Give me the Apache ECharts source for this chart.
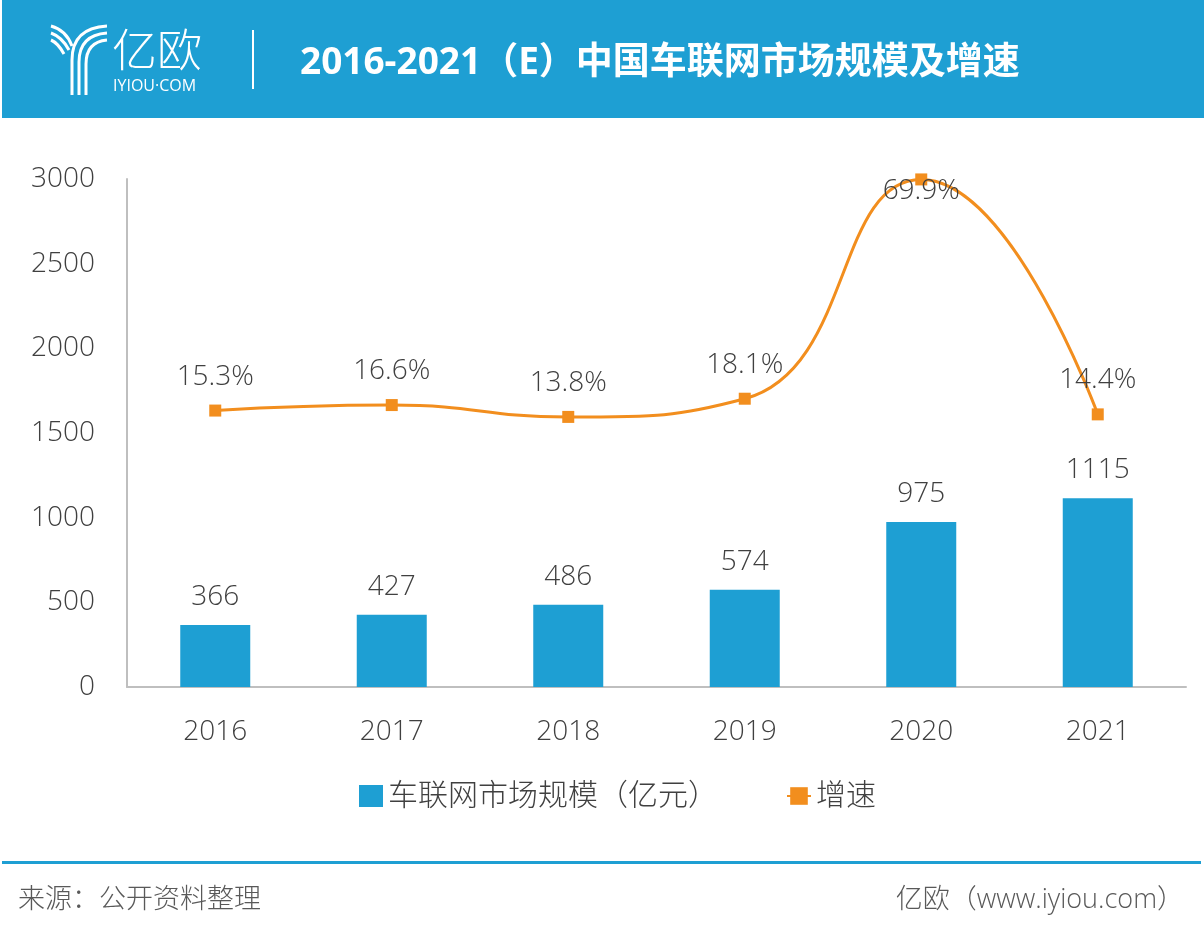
<!DOCTYPE html>
<html>
<head>
<meta charset="utf-8">
<script src="https://cdn.jsdelivr.net/npm/echarts@6/dist/echarts.min.js"></script>
<style>
html, body { margin: 0; padding: 0; background: #fff; }
#chart { width: 1204px; height: 940px; }
</style>
</head>
<body>
<div id="chart"></div>
<script>
var years = ['2016', '2017', '2018', '2019', '2020', '2021'];
var marketSize = [366, 427, 486, 574, 975, 1115];
var growth = [0.153, 0.166, 0.138, 0.181, 0.699, 0.144];
var yTicks = [0, 500, 1000, 1500, 2000, 2500, 3000];

var FONT = "'Open Sans', 'Noto Sans CJK SC', sans-serif";
var BLUE = '#1e9fd3';
var ORANGE = '#f28e1e';

var chart = echarts.init(document.getElementById('chart'), null, {renderer: 'canvas'});

var growthData = growth.map(function (v, i) {
    if (i === 4) {
        // the peak label sits over the point in the original
        return {value: v, label: {position: 'inside', offset: [0, 12]}};
    }
    return v;
});

// simple drawing of the logo mark
function logoCurve(x1, y1, cx, cy, x2, y2) {
    return {type: 'bezierCurve', shape: {x1: x1, y1: y1, cpx1: cx, cpy1: cy, x2: x2, y2: y2},
        style: {stroke: '#fff', lineWidth: 3, fill: null}};
}
function logoLine(x, y1, y2) {
    return {type: 'line', shape: {x1: x, y1: y1, x2: x, y2: y2}, style: {stroke: '#fff', lineWidth: 3}};
}

chart.setOption({
    backgroundColor: '#fff',
    textStyle: {fontFamily: FONT},
    graphic: [
        {type: 'rect', shape: {x: 2, y: 0, width: 1202, height: 118}, style: {fill: BLUE}},
        logoCurve(107, 26, 72, 28, 72, 60), logoLine(72, 60, 95),
        logoCurve(107, 33, 79, 35, 79, 62), logoLine(79, 62, 95),
        logoCurve(107, 40, 86, 42, 86, 64), logoLine(86, 64, 95),
        logoCurve(51, 26, 66, 30, 72, 46),
        logoCurve(51, 33, 62, 37, 69, 50),
        logoCurve(51, 40, 58, 43, 64, 54),
        {type: 'text', left: 112, top: 32, style: {text: '亿欧', fill: '#fff', font: '300 45px ' + FONT}},
        {type: 'text', left: 113, top: 78, style: {text: 'IYIOU·COM', fill: '#fff', font: '16px ' + FONT}},
        {type: 'line', shape: {x1: 253, y1: 30, x2: 253, y2: 89}, style: {stroke: '#fff', lineWidth: 2}},
        {type: 'text', left: 300, top: 45, style: {text: '2016-2021（E）中国车联网市场规模及增速', fill: '#fff', font: 'bold 37px ' + FONT}},
        // footer
        {type: 'rect', shape: {x: 2, y: 861, width: 1199, height: 3}, style: {fill: BLUE}},
        {type: 'text', left: 18, top: 887, style: {text: '来源：公开资料整理', fill: '#595959', font: '300 27px ' + FONT}},
        {type: 'text', right: 20, top: 887, style: {text: '亿欧（www.iyiou.com）', fill: '#595959', font: '300 27px ' + FONT}}
    ],
    legend: {
        left: 354,
        top: 776,
        itemWidth: 24,
        itemHeight: 22,
        itemGap: 68,
        textStyle: {fontSize: 30, color: '#404040', fontWeight: 300, fontFamily: FONT},
        data: [
            {name: '车联网市场规模（亿元）', icon: 'rect', itemStyle: {color: BLUE}},
            {name: '增速'}
        ]
    },
    grid: {left: 127, right: 18, top: 179, bottom: 253},
    xAxis: {
        type: 'category',
        data: years,
        axisLine: {lineStyle: {color: '#bfbfbf', width: 2}},
        axisTick: {show: false},
        axisLabel: {fontSize: 28, color: '#404040', fontWeight: 300, margin: 31}
    },
    yAxis: [
        {
            type: 'value',
            min: yTicks[0],
            max: yTicks[yTicks.length - 1],
            interval: 500,
            axisLine: {show: true, lineStyle: {color: '#bfbfbf', width: 2}},
            axisTick: {show: false},
            splitLine: {show: false},
            axisLabel: {fontSize: 28, color: '#404040', fontWeight: 300, margin: 32,
                formatter: function (v) { return String(v); }}
        },
        {
            type: 'value',
            min: -0.5,
            max: 0.7,
            show: false,
            splitLine: {show: false}
        }
    ],
    series: [
        {
            name: '车联网市场规模（亿元）',
            type: 'bar',
            data: marketSize,
            barWidth: 70,
            itemStyle: {color: BLUE},
            label: {show: true, position: 'top', distance: 14, fontSize: 28, color: '#404040', fontWeight: 300}
        },
        {
            name: '增速',
            type: 'line',
            yAxisIndex: 1,
            data: growthData,
            smooth: 0.5,
            smoothConstraint: false,
            symbol: 'rect',
            symbolSize: 12,
            lineStyle: {color: ORANGE, width: 3},
            itemStyle: {color: ORANGE},
            label: {
                show: true, position: 'top', distance: 14, fontSize: 28, color: '#404040', fontWeight: 300,
                formatter: function (p) { return (p.value * 100).toFixed(1) + '%'; }
            }
        }
    ]
});
</script>
</body>
</html>
